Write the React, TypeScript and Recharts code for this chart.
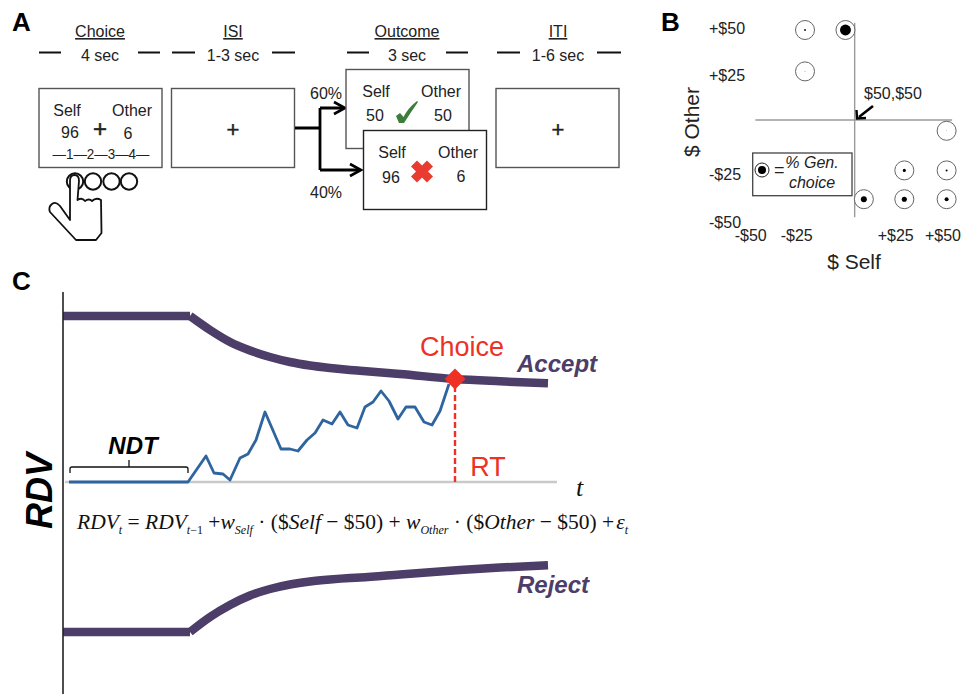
import { ComposedChart, Line, ReferenceDot, ReferenceLine, Scatter, ScatterChart, XAxis, YAxis } from "recharts";

const SANS = "'Liberation Sans', Arial, sans-serif";
const SERIF = "'Liberation Serif', 'Times New Roman', serif";
const PURPLE = "#4d3d69";
const RED = "#ee3124";

// Panel C: time against relative decision value
const holdT = [0, 127];
const acceptHold = [166, 166];
const rejectHold = [-150, -150];
const acceptT = [127, 147, 167, 187, 207, 227, 247, 267, 287, 297, 337, 392, 437, 485];
const acceptRdv = [166, 152, 140, 131.5, 125, 120, 116.5, 114, 112, 111.2, 108, 103, 100.7, 98.7];
const rejectT = [127, 147, 167, 187, 207, 227, 247, 267, 287, 297, 337, 397, 437, 485];
const rejectRdv = [-150, -135, -123, -113.5, -107, -102.5, -99.5, -97.5, -96, -95.5, -92.5, -88, -85.5, -83.3];
const walkT = [6, 125, 143, 151, 160, 167, 177, 185, 193, 202, 218, 227, 235, 244, 252, 260, 269, 277, 285, 294, 302, 310, 318, 326, 335, 343, 352, 361, 369, 377, 386];
const walkRdv = [0, 0, 26, 9, 8, 2, 24, 28, 42, 70, 33, 33, 31, 42, 49, 62, 58, 70, 57, 54, 75, 80, 91, 81, 63, 75, 75, 60, 57, 71, 98];
const timeAxisT = [2, 494];
const rtT = 392;
const choiceRdv = 103;

// Panel B: payoffs and share of generous choices
const selfValues = [-27, -5, -27, 50, 27, 50, 5, 27, 50];
const otherValues = [50, 50, 27, -6, -28, -28, -44, -44, -44];
const genShare = [0.01, 0.37, 0.001, 0.001, 0.03, 0.012, 0.11, 0.08, 0.05];
const selfTickAt = [-56.5, -31.5, 22.3, 48];
const selfTickLabels = ["-$50", "-$25", "+$25", "+$50"];
const otherTickAt = [51, 25, -30, -57];
const otherTickLabels = ["+$50", "+$25", "-$25", "-$50"];

// Panel A: trial stages
const stageNames = ["Choice", "ISI", "Outcome", "ITI"];
const stageTimes = ["4 sec", "1-3 sec", "3 sec", "1-6 sec"];
const stageCentres = [100, 233, 407, 558];
const stageDashes = [[39, 61, 138, 160], [172, 195, 272, 295], [347, 369, 446, 468], [497, 520, 597, 621]];

const zip = (xs: number[], ys: number[]) => xs.map((t, i) => ({ t, rdv: ys[i] }));
const payoffs = selfValues.map((self, i) => ({ self, other: otherValues[i], share: genShare[i] }));

function ChoiceDot({ cx, cy, payload }: any) {
  return (
    <g>
      <circle cx={cx} cy={cy} r={9.5} fill="#fff" stroke="#666" strokeWidth={1} />
      <circle cx={cx} cy={cy} r={Math.max(9 * Math.sqrt(payload.share), 0.3)} fill="#000" />
    </g>
  );
}

function SelfTick({ x, y, index }: any) {
  return (
    <text x={x} y={y + 5} textAnchor="middle" fontFamily={SANS} fontSize={16} fill="#222">
      {selfTickLabels[index]}
    </text>
  );
}

function OtherTick({ x, y, index }: any) {
  return (
    <text x={x - 31} y={y + 5.5} textAnchor="start" fontFamily={SANS} fontSize={16} fill="#222">
      {otherTickLabels[index]}
    </text>
  );
}

function Diamond({ cx, cy }: any) {
  return <path d={`M${cx - 10.5} ${cy}L${cx} ${cy - 10.5}L${cx + 10.5} ${cy}L${cx} ${cy + 10.5}Z`} fill={RED} />;
}

function T({ x, y, s = 16, a = "middle", children, ...rest }: any) {
  return (
    <text x={x} y={y} fontSize={s} textAnchor={a} fontFamily={SANS} fill="#222" {...rest}>
      {children}
    </text>
  );
}

function Box({ x, y, w = 123, h = 79, stroke = "#555" }: any) {
  return <rect x={x} y={y} width={w} height={h} fill="#fff" stroke={stroke} strokeWidth={1.4} />;
}

function Arrowhead({ x, y }: any) {
  return <path d={`M${x - 11} ${y - 6}L${x} ${y}L${x - 11} ${y + 6}`} fill="none" stroke="#000" strokeWidth={2.6} />;
}

function Sub({ children }: any) {
  return (
    <tspan fontSize={12} dy={5}>
      {children}
    </tspan>
  );
}

function Overlay() {
  return (
    <svg width={965} height={694} style={{ position: "absolute", left: 0, top: 0 }}>
      <T x={12} y={31} s={26} a="start" fontWeight="bold" fill="#000">A</T>
      <T x={661} y={31} s={26} a="start" fontWeight="bold" fill="#000">B</T>
      <T x={12} y={290} s={26} a="start" fontWeight="bold" fill="#000">C</T>

      {stageNames.map((name, i) => (
        <g key={name}>
          <T x={stageCentres[i]} y={37} textDecoration="underline">{name}</T>
          <T x={stageCentres[i]} y={60.5}>{stageTimes[i]}</T>
          <path
            d={`M${stageDashes[i][0]} 52.5H${stageDashes[i][1]}M${stageDashes[i][2]} 52.5H${stageDashes[i][3]}`}
            stroke="#111"
            strokeWidth={1.8}
          />
        </g>
      ))}

      <Box x={39} y={88.5} />
      <T x={67} y={116}>Self</T>
      <T x={132} y={116}>Other</T>
      <T x={70} y={138}>96</T>
      <T x={100} y={137} s={24} stroke="#222" strokeWidth={0.5}>+</T>
      <T x={128} y={139}>6</T>
      <T x={52.5} y={159} s={14.5} a="start" textLength={97} lengthAdjust="spacingAndGlyphs">—1—2—3—4—</T>

      <Box x={171.5} y={88.5} />
      <T x={233} y={137} s={22} stroke="#222" strokeWidth={0.4}>+</T>
      <Box x={496} y={88.5} />
      <T x={558} y={137} s={22} stroke="#222" strokeWidth={0.4}>+</T>

      {[75, 93, 111.5, 129].map((cx) => (
        <circle key={cx} cx={cx} cy={181.5} r={8.2} fill="none" stroke="#111" strokeWidth={2} />
      ))}
      <path
        d="M70 181Q70 175 74.5 175Q79 175 79 181L77.5 200Q82 197 85 201Q89 198 92 201Q96 197 101 200L101.5 233L96 240L76 240L50 212Q48 207 52 204Q56 201 60 206L70 220Z"
        fill="#fff"
        stroke="#111"
        strokeWidth={1.8}
        strokeLinejoin="round"
      />

      <path d="M295 128H320M320 108V170M320 108H344M320 170H359" fill="none" stroke="#000" strokeWidth={2.8} />
      <Arrowhead x={345} y={108} />
      <Arrowhead x={361} y={170} />
      <T x={326} y={99}>60%</T>
      <T x={326} y={198}>40%</T>

      <Box x={346} y={69.5} />
      <T x={376} y={97}>Self</T>
      <T x={441} y={97}>Other</T>
      <T x={375} y={121}>50</T>
      <T x={443} y={121}>50</T>
      <path d="M396 116L400 113L403.5 117Q408 108 417 101L418 102Q411 112 404 123L399 123Z" fill="#3c7d3b" />
      <Box x={363.5} y={130.5} stroke="#222" />
      <T x={392} y={158}>Self</T>
      <T x={458} y={158}>Other</T>
      <T x={391} y={183}>96</T>
      <T x={461} y={182}>6</T>
      <path d="M414 163.5L430 179.5M430 163.5L414 179.5" stroke="#e93c30" strokeWidth={8.5} />

      <T x={864} y={99} a="start">$50,$50</T>
      <path d="M873 106L859 117" stroke="#000" strokeWidth={2.6} />
      <path d="M856.5 110L857 118.5L866 118" fill="none" stroke="#000" strokeWidth={2.4} />
      <rect x={752.7} y={153} width={99.3} height={42.7} fill="#fff" stroke="#444" strokeWidth={1.3} />
      <circle cx={762} cy={170} r={7} fill="#fff" stroke="#222" strokeWidth={1} />
      <circle cx={762} cy={170} r={4} fill="#000" />
      <T x={774} y={176} s={18} a="start">=</T>
      <T x={812} y={168} s={16} fontStyle="italic">% Gen.</T>
      <T x={812} y={188} s={16} fontStyle="italic">choice</T>
      <T x={854} y={269} s={21}>$ Self</T>
      <T x={0} y={0} s={21} transform="translate(699 122) rotate(-90)">$ Other</T>

      <T x={462} y={356} s={27} fill={RED}>Choice</T>
      <T x={488} y={476} s={27} fill={RED}>RT</T>
      <T x={517} y={372} s={24} a="start" fontWeight="bold" fontStyle="italic" fill={PURPLE}>Accept</T>
      <T x={517} y={593} s={24} a="start" fontWeight="bold" fontStyle="italic" fill={PURPLE}>Reject</T>
      <T x={133} y={454} s={24} fontWeight="bold" fontStyle="italic" fill="#000">NDT</T>
      <path d="M70 473V469Q70 467 72 467H129V460M129 467H186Q188 467 188 469V473" fill="none" stroke="#111" strokeWidth={1.3} />
      <T x={0} y={0} s={36} fontWeight="bold" fontStyle="italic" fill="#000" transform="translate(52 491) rotate(-90)">RDV</T>
      <text x={576} y={496} fontFamily={SERIF} fontStyle="italic" fontSize={26} fill="#111">t</text>

      <text x={77} y={529} fontFamily={SERIF} fontSize={21.5} fill="#111">
        <tspan fontStyle="italic">RDV</tspan>
        <Sub><tspan fontStyle="italic">t</tspan></Sub>
        <tspan dy={-5}> = </tspan>
        <tspan fontStyle="italic">RDV</tspan>
        <Sub><tspan fontStyle="italic">t</tspan>−1</Sub>
        <tspan dy={-5}> +</tspan>
        <tspan fontStyle="italic">w</tspan>
        <Sub><tspan fontStyle="italic">Self</tspan></Sub>
        <tspan dy={-5}> · ($</tspan>
        <tspan fontStyle="italic">Self</tspan>
        <tspan> − $50) + </tspan>
        <tspan fontStyle="italic">w</tspan>
        <Sub><tspan fontStyle="italic">Other</tspan></Sub>
        <tspan dy={-5}> · ($</tspan>
        <tspan fontStyle="italic">Other</tspan>
        <tspan> − $50) +</tspan>
        <tspan fontStyle="italic" dx={2}>ε</tspan>
        <Sub><tspan fontStyle="italic">t</tspan></Sub>
      </text>
    </svg>
  );
}

export default function App() {
  return (
    <div style={{ position: "absolute", left: 0, top: 0, width: 965, height: 694, background: "#fff", overflow: "hidden" }}>
      <div style={{ position: "absolute", left: 0, top: 292 }}>
        <ComposedChart width={663} height={402} margin={{ top: 0, right: 0, bottom: 0, left: 0 }}>
          <XAxis type="number" dataKey="t" domain={[0, 600]} hide />
          <YAxis
            type="number"
            width={63}
            domain={[-212, 190]}
            tick={false}
            tickLine={false}
            axisLine={{ stroke: "#222", strokeWidth: 1.6 }}
          />
          <Line data={zip(timeAxisT, [0, 0])} dataKey="rdv" stroke="#c9c9c9" strokeWidth={2.5} dot={false} isAnimationActive={false} />
          <Line data={zip(holdT, acceptHold)} dataKey="rdv" stroke={PURPLE} strokeWidth={8.5} dot={false} isAnimationActive={false} />
          <Line data={zip(holdT, rejectHold)} dataKey="rdv" stroke={PURPLE} strokeWidth={8.5} dot={false} isAnimationActive={false} />
          <Line data={zip(acceptT, acceptRdv)} dataKey="rdv" type="monotone" stroke={PURPLE} strokeWidth={8.5} dot={false} isAnimationActive={false} />
          <Line data={zip(rejectT, rejectRdv)} dataKey="rdv" type="monotone" stroke={PURPLE} strokeWidth={8.5} dot={false} isAnimationActive={false} />
          <Line data={zip([rtT, rtT], [0, choiceRdv])} dataKey="rdv" stroke={RED} strokeWidth={2.4} strokeDasharray="6 3" dot={false} isAnimationActive={false} />
          <Line data={zip(walkT, walkRdv)} dataKey="rdv" stroke="#2f659f" strokeWidth={2.8} strokeLinejoin="round" dot={false} isAnimationActive={false} />
          <ReferenceDot x={rtT} y={choiceRdv} r={10} shape={Diamond} />
        </ComposedChart>
      </div>
      <div style={{ position: "absolute", left: 700, top: 12 }}>
        <ScatterChart width={265} height={236} margin={{ top: 0, right: 0, bottom: 0, left: 0 }}>
          <XAxis
            type="number"
            dataKey="self"
            domain={[-58, 60]}
            ticks={selfTickAt}
            interval={0}
            tick={<SelfTick />}
            axisLine={false}
            tickLine={false}
            height={20}
          />
          <YAxis
            type="number"
            dataKey="other"
            domain={[-60, 60]}
            ticks={otherTickAt}
            interval={0}
            tick={<OtherTick />}
            axisLine={false}
            tickLine={false}
            width={48}
          />
          <ReferenceLine segment={[{ x: 0, y: 54 }, { x: 0, y: -54 }]} stroke="#9a9a9a" strokeWidth={1.4} />
          <ReferenceLine segment={[{ x: -54, y: 0 }, { x: 53, y: 0 }]} stroke="#9a9a9a" strokeWidth={1.4} />
          <Scatter data={payoffs} shape={ChoiceDot} isAnimationActive={false} />
        </ScatterChart>
      </div>
      <Overlay />
    </div>
  );
}
